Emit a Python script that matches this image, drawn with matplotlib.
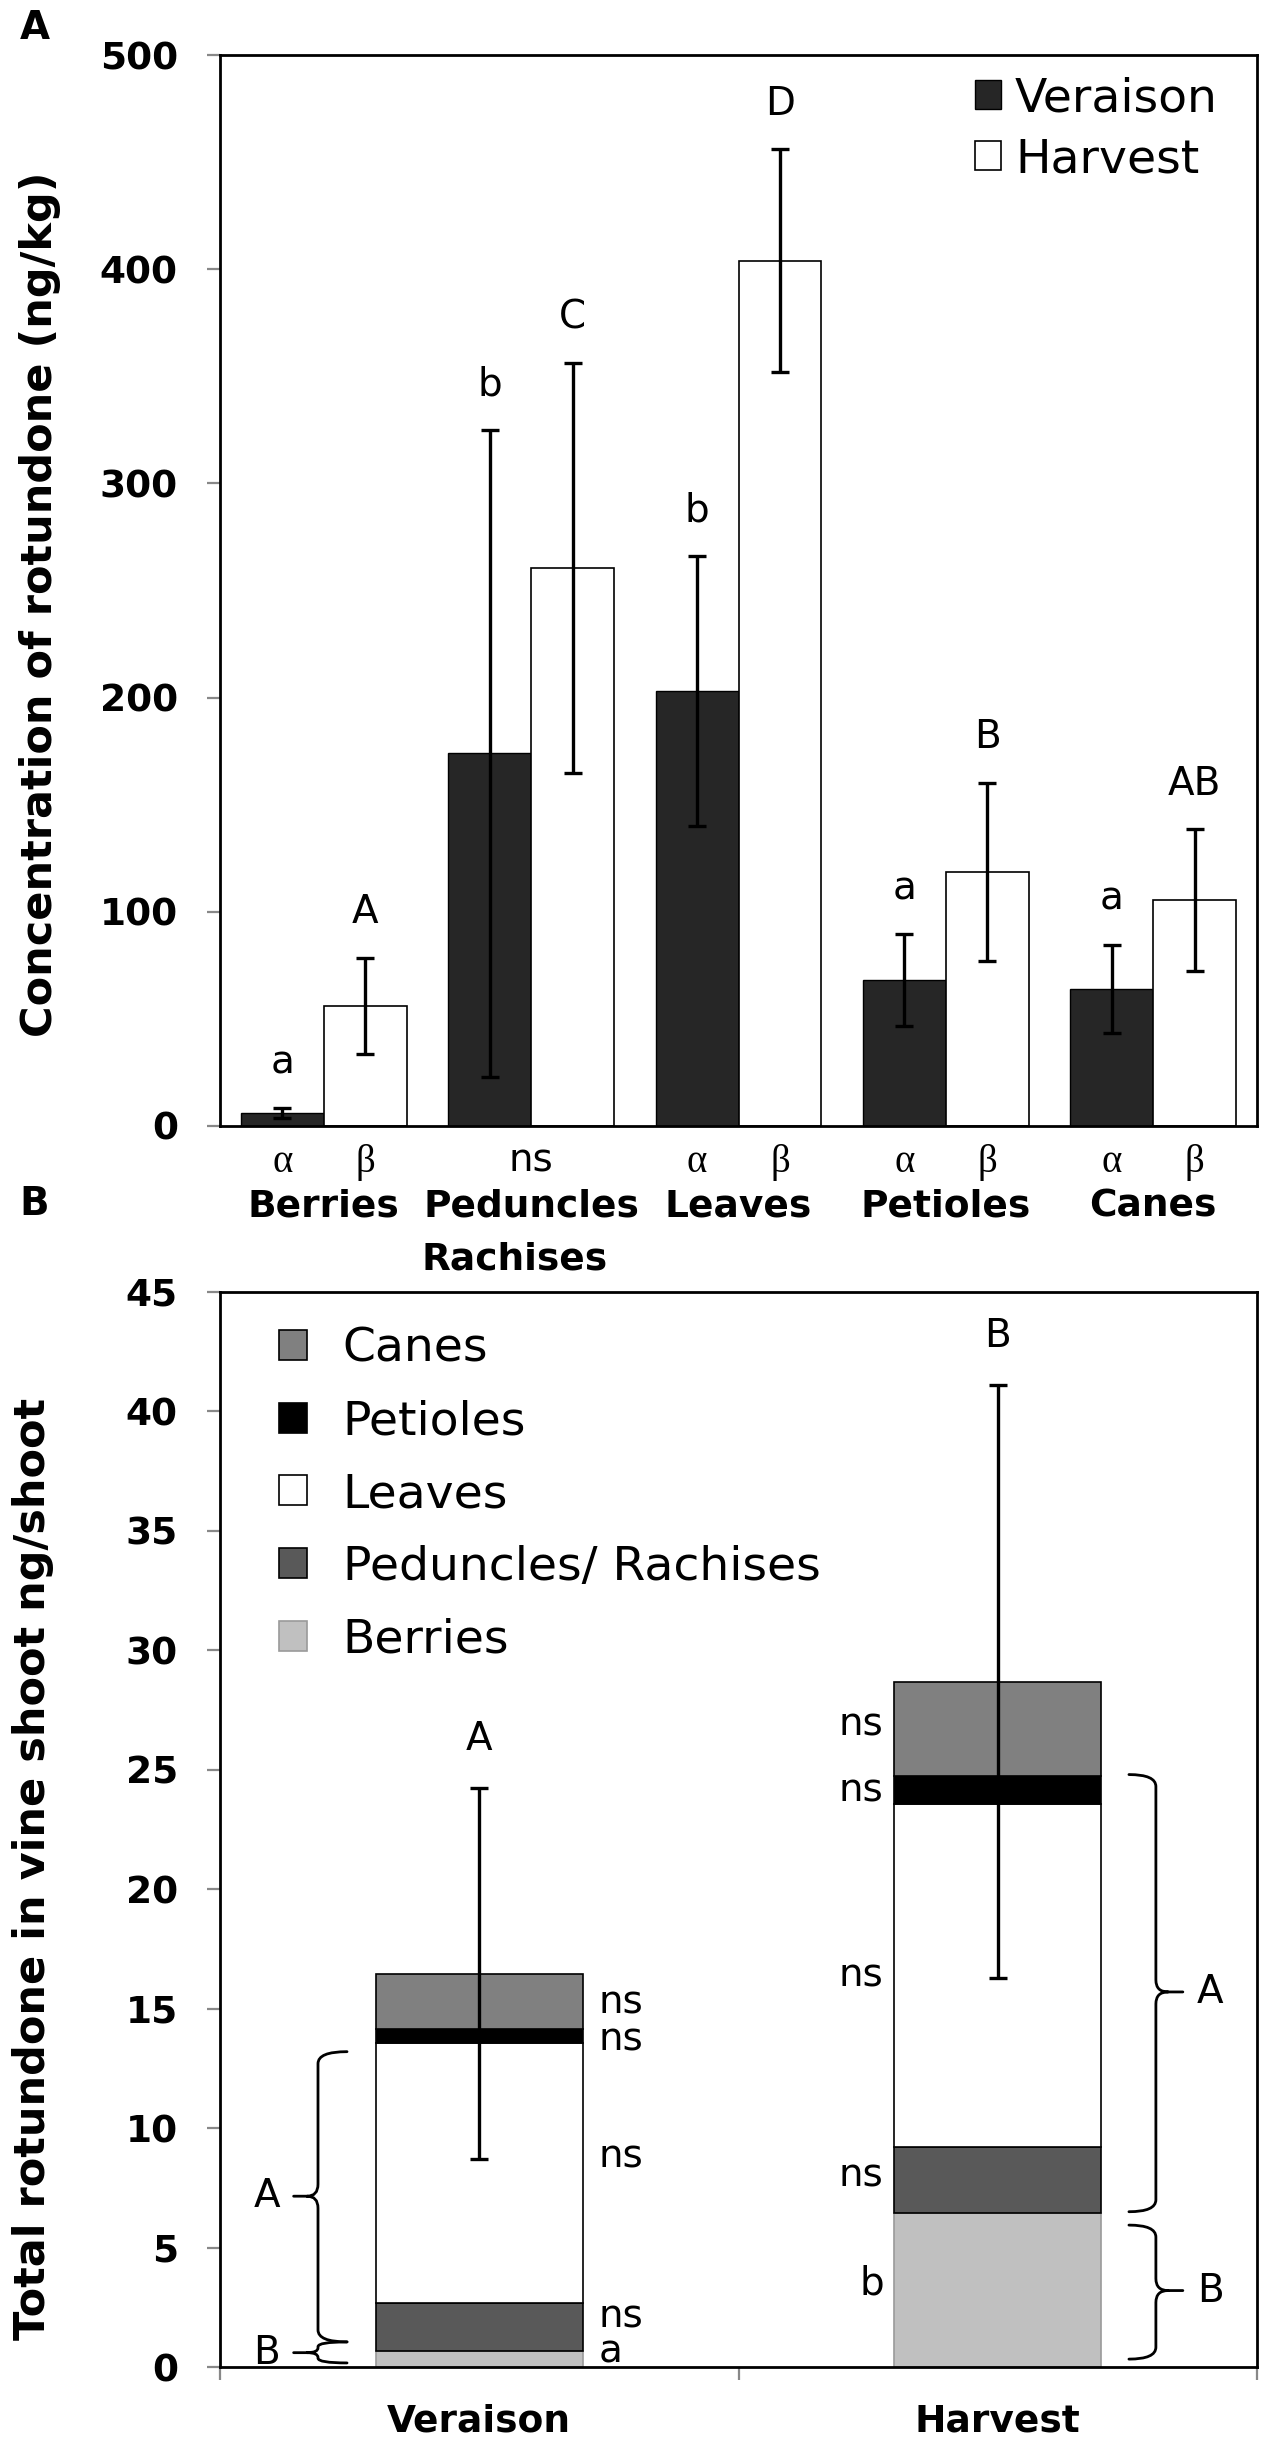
import numpy as np
import matplotlib
matplotlib.use("Agg")
import matplotlib.pyplot as plt
from matplotlib.path import Path
from matplotlib.patches import PathPatch

plt.rcParams['font.family'] = ['DejaVu Sans']

# ---------------- data: panel A ----------------
organs = ['Berries', 'Peduncles', 'Leaves', 'Petioles', 'Canes']
organ_sub = ['', 'Rachises', '', '', '']
veraison_mean = [6, 174, 203, 68, 64]
veraison_err = [2.4, 151, 63, 21.5, 20.7]
harvest_mean = [56, 260.5, 404, 118.6, 105.5]
harvest_err = [22.5, 95.5, 52, 41.5, 33]
veraison_letters = ['a', 'b', 'b', 'a', 'a']
harvest_letters = ['A', 'C', 'D', 'B', 'AB']
stage_compare = [('α', 'β'), ('ns',), ('α', 'β'), ('α', 'β'), ('α', 'β')]
yticksA = [0, 100, 200, 300, 400, 500]

# ---------------- data: panel B ----------------
stages = ['Veraison', 'Harvest']
berries = [0.67, 6.45]
peduncles = [2.01, 2.74]
leaves = [10.87, 14.36]
petioles = [0.58, 1.19]
canes = [2.34, 3.95]
total_err = [7.75, 12.4]
total_letters = ['A', 'B']
seg_letters_ver = ['a', 'ns', 'ns', 'ns', 'ns']
seg_letters_har = ['b', 'ns', 'ns', 'ns', 'ns']
group_letters = [('A', 'B'), ('A', 'B')]
yticksB = list(range(0, 50, 5))

# ---------------- layout ----------------
W, H = 1267, 2445
fig = plt.figure(figsize=(W / 100, H / 100), dpi=100)
axA = fig.add_axes([220 / W, 1 - 1126 / H, 1037 / W, 1071 / H])
axB = fig.add_axes([220 / W, 1 - 2367 / H, 1037 / W, 1075 / H])

dark = '#262626'
bw = 0.4
tick_kw = dict(direction='out', length=9.4, width=1.6, color='#888888', pad=21,
               labelsize=27)
ann_fs = 28

# ---------------- panel A ----------------
x = np.arange(len(organs))
ekw = dict(elinewidth=2.4, capthick=2.4, ecolor='black', capsize=6.5)
bV = axA.bar(x - bw / 2, veraison_mean, bw, color=dark, edgecolor='black', lw=1,
             yerr=veraison_err, error_kw=ekw, label='Veraison')
bH = axA.bar(x + bw / 2, harvest_mean, bw, color='white', edgecolor='black', lw=1.2,
             yerr=harvest_err, error_kw=ekw, label='Harvest')
for i in range(len(organs)):
    axA.annotate(veraison_letters[i], (x[i] - bw / 2, veraison_mean[i] + veraison_err[i]),
                 xytext=(0, 25), textcoords='offset points', ha='center', va='baseline',
                 fontsize=ann_fs)
    axA.annotate(harvest_letters[i], (x[i] + bw / 2, harvest_mean[i] + harvest_err[i]),
                 xytext=(0, 25), textcoords='offset points', ha='center', va='baseline',
                 fontsize=ann_fs)

axA.set_xlim(-0.5, len(organs) - 0.5)
axA.set_ylim(0, 500)
axA.set_yticks(yticksA)
axA.set_xticks([])
axA.tick_params(axis='y', **tick_kw)
for lab in axA.get_yticklabels():
    lab.set_fontweight('bold')
for s in axA.spines.values():
    s.set_linewidth(2)
    s.set_color('black')

trA = axA.get_xaxis_transform()
for i, comp in enumerate(stage_compare):
    if len(comp) == 2:
        for dx, g in zip((-bw / 2, bw / 2), comp):
            axA.text(x[i] + dx, -0.034, g, transform=trA, ha='center', va='center',
                     fontsize=28, family=['Liberation Serif', 'DejaVu Serif'])
    else:
        axA.text(x[i], -0.032, comp[0], transform=trA, ha='center', va='center',
                 fontsize=ann_fs)
    axA.text(x[i], -0.0756, organs[i], transform=trA, ha='center', va='center',
             fontsize=27, fontweight='bold')
    if organ_sub[i]:
        axA.text(x[i] - 0.08, -0.125, organ_sub[i], transform=trA, ha='center',
                 va='center', fontsize=27, fontweight='bold')

axA.set_ylabel('Concentration of rotundone (ng/kg)', fontsize=31, fontweight='bold')
axA.yaxis.set_label_coords(-0.153, 0.487)

legA = axA.legend(handles=[bV, bH], loc='upper left', bbox_to_anchor=(0.728, 0.98),
                  frameon=False, fontsize=34, handlelength=0.55, handleheight=0.55,
                  handletextpad=0.3, labelspacing=0.33, borderpad=0, borderaxespad=0)

# ---------------- panel B ----------------
xb = np.arange(len(stages))
segs = [('Berries', berries, '#c0c0c0', '#9a9a9a'),
        ('Peduncles/ Rachises', peduncles, '#595959', 'black'),
        ('Leaves', leaves, 'white', 'black'),
        ('Petioles', petioles, 'black', 'black'),
        ('Canes', canes, '#808080', 'black')]
bottom = np.zeros(len(stages))
handles = {}
for name, vals, fc, ec in segs:
    vals = np.asarray(vals, dtype=float)
    h = axB.bar(xb, vals, bw, bottom=bottom, color=fc, edgecolor=ec, lw=1.2, label=name)
    handles[name] = h
    bottom = bottom + vals
totals = bottom
axB.errorbar(xb, totals, yerr=total_err, fmt='none', ecolor='black', elinewidth=2.4,
             capsize=6.5, capthick=2.4, zorder=5)
for i in range(len(stages)):
    axB.annotate(total_letters[i], (xb[i], totals[i] + total_err[i]), xytext=(0, 28),
                 textcoords='offset points', ha='center', va='baseline', fontsize=ann_fs)

# segment letters (label heights: layout positions)
ver_label_y = [0.65, 2.1, 8.8, 13.73, 15.24]
har_label_y = [3.5, 8.0, 16.4, 24.15, 26.9]
for lab, yy in zip(seg_letters_ver, ver_label_y):
    axB.text(xb[0] + bw / 2 + 0.03, yy, lab, ha='left', va='center', fontsize=ann_fs)
for lab, yy in zip(seg_letters_har, har_label_y):
    axB.text(xb[1] - bw / 2 - 0.02, yy, lab, ha='right', va='center', fontsize=ann_fs)


def brace(ax, x_line, y0, y1, x_end, x_tip, y_tip, r):
    x_mid = x_line + (x_tip - x_line) * 0.45
    verts = [(x_end, y1), (x_line, y1), (x_line, y1 - r),
             (x_line, y_tip + r),
             (x_line, y_tip), (x_mid, y_tip),
             (x_tip, y_tip),
             (x_mid, y_tip),
             (x_line, y_tip), (x_line, y_tip - r),
             (x_line, y0 + r),
             (x_line, y0), (x_end, y0)]
    codes = [Path.MOVETO, Path.CURVE3, Path.CURVE3,
             Path.LINETO,
             Path.CURVE3, Path.CURVE3,
             Path.LINETO,
             Path.MOVETO,
             Path.CURVE3, Path.CURVE3,
             Path.LINETO,
             Path.CURVE3, Path.CURVE3]
    ax.add_patch(PathPatch(Path(verts, codes), fill=False, lw=2.0, ec='black',
                           capstyle='round', joinstyle='round'))


# Veraison braces (left of bar)
brace(axB, -0.311, 1.05, 13.2, -0.255, -0.358, 7.15, 0.5)
brace(axB, -0.311, 0.17, 1.05, -0.255, -0.358, 0.6, 0.2)
axB.text(-0.41, 7.15, group_letters[0][0], ha='center', va='center', fontsize=ann_fs)
axB.text(-0.41, 0.6, group_letters[0][1], ha='center', va='center', fontsize=ann_fs)
# Harvest braces (right of bar)
brace(axB, 1.305, 6.5, 24.8, 1.253, 1.357, 15.7, 0.5)
brace(axB, 1.305, 0.33, 5.94, 1.253, 1.357, 3.2, 0.5)
axB.text(1.41, 15.7, group_letters[1][0], ha='center', va='center', fontsize=ann_fs)
axB.text(1.41, 3.2, group_letters[1][1], ha='center', va='center', fontsize=ann_fs)

axB.set_xlim(-0.5, len(stages) - 0.5)
axB.set_ylim(0, 45)
axB.set_yticks(yticksB)
axB.tick_params(axis='y', **tick_kw)
axB.set_xticks([-0.5, 0.5, 1.5])
axB.set_xticklabels([])
axB.tick_params(axis='x', which='major', direction='out', length=9.4, width=1.6,
                color='#888888')
axB.set_xticks(xb, stages, minor=True)
axB.tick_params(axis='x', which='minor', length=0, pad=26, labelsize=27)
for lab in axB.get_yticklabels() + axB.get_xticklabels(minor=True):
    lab.set_fontweight('bold')
for s in axB.spines.values():
    s.set_linewidth(2)
    s.set_color('black')
axB.set_ylabel('Total rotundone in vine shoot ng/shoot', fontsize=31, fontweight='bold')
axB.yaxis.set_label_coords(-0.160, 0.463)

order = ['Canes', 'Petioles', 'Leaves', 'Peduncles/ Rachises', 'Berries']
legB = axB.legend(handles=[handles[n] for n in order], loc='upper left',
                  bbox_to_anchor=(0.057, 0.968), frameon=False, fontsize=34,
                  handlelength=0.6, handleheight=0.6, handletextpad=0.75,
                  labelspacing=0.59, borderpad=0, borderaxespad=0)

fig.text(35 / W, 1 - 28 / H, 'A', fontsize=28, fontweight='bold', ha='center', va='center')
fig.text(34 / W, 1 - 1204 / H, 'B', fontsize=28, fontweight='bold', ha='center', va='center')

fig.savefig('out.png', dpi=100)
